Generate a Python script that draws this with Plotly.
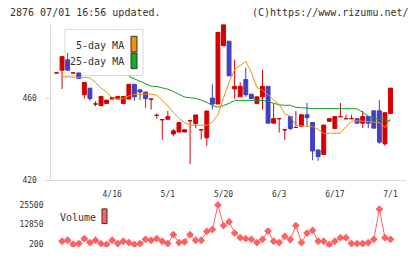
import plotly.graph_objects as go

# ---- data ----
idx = list(range(61))
opens  = [472.2,473.5,478.6,472.2,472.2,461.6,464.8,457.1,456.3,457.3,
          459.5,459.5,457.3,459.5,466.7,464.0,462.9,459.5,451.6,449.5,
          449.7,442.6,443.5,443.5,449.0,447.6,444.6,440.7,460.0,457.1,
          485.4,487.6,464.4,460.6,469.0,461.9,457.3,460.6,465.7,447.8,
          450.0,444.6,451.0,445.7,446.3,451.9,448.1,434.8,432.6,448.7,
          445.2,451.0,450.0,450.0,450.0,447.8,451.0,453.8,453.8,437.8,452.5]
highs  = [472.2,480.1,481.9,472.2,472.2,467.6,464.8,458.4,460.8,459.0,
          460.3,460.8,460.8,466.7,466.7,464.0,462.9,459.5,452.5,449.5,
          453.7,444.9,448.1,444.6,449.5,451.8,444.6,453.7,466.7,491.9,
          495.7,487.6,478.6,467.6,474.8,461.9,460.6,473.8,465.7,457.3,
          450.0,444.6,451.0,453.7,451.9,457.6,448.1,434.8,446.9,450.0,
          451.0,457.6,451.9,451.9,450.0,453.7,451.0,453.8,459.0,452.9,464.8]
lows   = [472.2,464.4,473.5,472.2,469.5,459.7,458.7,456.0,456.3,457.3,
          459.5,459.5,457.3,459.5,458.7,458.9,455.2,454.4,450.0,439.7,
          449.7,441.4,443.5,443.5,428.0,445.4,439.9,436.8,454.4,457.1,
          485.4,470.8,459.7,460.6,460.6,459.7,457.3,454.4,447.8,447.8,
          443.3,439.7,444.4,445.7,446.3,446.3,429.8,429.5,432.6,448.7,
          445.2,451.0,450.0,450.0,447.8,445.4,445.4,445.4,437.8,436.8,452.5]
closes = [472.2,480.1,473.5,472.2,469.5,467.6,459.7,457.1,460.8,459.0,
          460.3,460.8,460.8,466.7,460.6,462.9,459.7,459.5,451.6,449.5,
          451.0,444.1,448.1,444.6,449.0,451.8,444.6,453.7,457.1,491.9,
          495.7,470.8,465.7,465.7,461.6,459.7,460.6,465.7,447.8,450.0,
          450.0,444.6,445.2,445.7,451.9,450.5,434.3,431.6,446.9,450.0,
          451.0,451.0,450.0,450.0,447.8,451.0,447.8,445.4,438.6,452.9,464.8]

ma5 = [None,470.3,470.3,470.3,470.2,470.0,469.9,467.6,464.8,462.9,
       460.2,459.5,459.8,461.0,461.8,461.9,461.9,461.9,461.4,459.0,
       456.2,452.9,450.2,448.1,446.8,446.8,446.8,446.8,448.3,451.9,
       460.0,467.6,473.8,475.9,477.8,472.4,465.2,463.7,461.7,459.0,
       456.9,452.4,451.2,446.7,446.5,446.5,446.2,444.8,442.9,442.9,
       442.9,442.9,446.2,448.8,448.9,448.9,448.6,448.3,448.1,445.7,450.0]
ma25 = [None]*13 + [470.5,469.3,468.1,466.7,465.8,465.6,465.0,464.3,463.1,
       461.7,460.5,460.1,459.9,459.0,457.9,456.4,455.6,456.4,457.4,458.9,
       458.9,458.9,458.9,458.9,458.9,458.3,457.4,456.7,456.5,456.5,455.5,
       455.2,454.9,454.9,454.9,454.9,454.9,454.9,454.9,454.9,454.9,454.8,
       453.1,451.2,450.2,449.8,449.3,448.9]
volume = [None,2100,2730,0,620,3780,1250,2730,620,0,
          2730,620,2100,1250,0,620,3360,2730,3780,2100,
          620,6310,1250,1680,6310,2730,2730,8420,9690,25500,
          12220,14750,7370,4420,3780,3360,1250,3360,8630,2100,
          1250,5260,3150,12220,1250,7370,9055,2100,2100,0,
          2100,4420,4420,620,620,620,1250,3360,22760,4420,3360]

tick_idx = [10, 20, 30, 40, 50, 60]
tick_labels = ["4/16", "5/1", "5/20", "6/3", "6/17", "7/1"]
price_ticks = [420, 460]
vol_ticks = [200, 12850, 25500]
vol_tick_labels = ["200", "12850", "25500"]

RED = "#d40000"
BLUE = "#4040c0"
ORANGE = "#f0900a"
GREEN = "#10a020"
VOLC = "#ff6060"
GRID = "#d8d8d8"
TXT = "#333333"
MONO = "DejaVu Sans Mono"

W, H = 420, 259
def px(x): return x / W
def py(y): return 1 - y / H

red_i = [i for i in idx if closes[i] >= opens[i]]
blue_i = [i for i in idx if closes[i] < opens[i]]

fig = go.Figure()

def candle(ids, color):
    fig.add_trace(go.Candlestick(
        x=[idx[i] for i in ids],
        open=[opens[i] for i in ids], high=[highs[i] for i in ids],
        low=[lows[i] for i in ids], close=[closes[i] for i in ids],
        increasing=dict(line=dict(color=color, width=1), fillcolor=color),
        decreasing=dict(line=dict(color=color, width=1), fillcolor=color),
        whiskerwidth=0, showlegend=False, xaxis="x", yaxis="y"))

fig.add_trace(go.Scatter(x=idx, y=ma25, mode="lines", line=dict(color=GREEN, width=1),
                         showlegend=False, xaxis="x", yaxis="y"))
fig.add_trace(go.Scatter(x=idx, y=ma5, mode="lines", line=dict(color=ORANGE, width=1),
                         showlegend=False, xaxis="x", yaxis="y"))
candle(red_i, RED)
candle(blue_i, BLUE)

fig.add_trace(go.Scatter(x=idx, y=volume, mode="lines+markers",
                         line=dict(color=VOLC, width=1),
                         marker=dict(symbol="diamond", size=6, color=VOLC),
                         showlegend=False, xaxis="x2", yaxis="y2"))

xr = [-1.078, 62.69]
xdom = [px(50.5), px(405.5)]

fig.update_layout(
    width=W, height=H, autosize=False, margin=dict(l=0, r=0, t=0, b=0, pad=0),
    paper_bgcolor="white", plot_bgcolor="white",
    boxmode="overlay", boxgap=0.3, boxgroupgap=0,
    font=dict(family=MONO, color=TXT, size=8),
    xaxis=dict(domain=xdom, range=xr, rangeslider=dict(visible=False),
               tickmode="array", tickvals=tick_idx, ticktext=tick_labels,
               ticks="", showgrid=False, zeroline=False,
               showline=True, linecolor=GRID, linewidth=1,
               tickfont=dict(family=MONO, size=8, color=TXT),
               ticklabelstandoff=6, anchor="y"),
    xaxis3=dict(overlaying="x", anchor="y", range=xr, tickmode="linear",
                tick0=xr[0], dtick=(xr[1] - xr[0]) / 11, ticks="outside",
                ticklen=6, tickcolor=GRID, tickwidth=1,
                showticklabels=False, showgrid=False, zeroline=False, showline=False),
    yaxis=dict(domain=[py(184), py(25)], range=[420, 495.7],
               tickmode="array", tickvals=price_ticks, ticks="outside",
               ticklen=5, tickcolor=GRID, showgrid=False, zeroline=False,
               showline=True, linecolor=GRID, linewidth=1,
               tickfont=dict(family=MONO, size=8, color=TXT),
               ticklabelstandoff=6, anchor="x"),
    xaxis2=dict(domain=xdom, range=xr, visible=False, anchor="y2"),
    yaxis2=dict(domain=[py(252), py(205)], range=[-1697.5, 28030],
                tickmode="array", tickvals=vol_ticks, ticktext=vol_tick_labels,
                ticks="", showgrid=False, zeroline=False, showline=False,
                tickfont=dict(family=MONO, size=8, color=TXT),
                ticklabelstandoff=6, anchor="x2"),
)

shapes = [
    dict(type="rect", xref="paper", yref="paper", x0=px(65), x1=px(143), y0=py(77), y1=py(30),
         line=dict(color="#d8d8d8", width=1), fillcolor="white", layer="below"),
    dict(type="rect", xref="paper", yref="paper", x0=px(131), x1=px(137), y0=py(53), y1=py(37),
         line=dict(color="#333333", width=1), fillcolor=ORANGE),
    dict(type="rect", xref="paper", yref="paper", x0=px(131), x1=px(137), y0=py(70), y1=py(54),
         line=dict(color="#333333", width=1), fillcolor="#10b020"),
    dict(type="rect", xref="paper", yref="paper", x0=px(102), x1=px(107), y0=py(228), y1=py(213),
         line=dict(color="#333333", width=1), fillcolor=VOLC),
]
fig.update_layout(shapes=shapes)

ann = [
    dict(text="2876 07/01 16:56 updated.", x=px(8), y=py(12.5), xanchor="left", size=10),
    dict(text="(C)https://www.rizumu.net/", x=px(411), y=py(12.5), xanchor="right", size=10),
    dict(text="5-day MA", x=px(125.5), y=py(46), xanchor="right", size=10),
    dict(text="25-day MA", x=px(125.5), y=py(63), xanchor="right", size=10),
    dict(text="Volume", x=px(58), y=py(222), xanchor="left", size=10),
]
for a in ann:
    fig.add_annotation(text=a["text"], x=a["x"], y=a["y"], xref="paper", yref="paper",
                       xanchor=a["xanchor"], yanchor="middle", showarrow=False,
                       font=dict(family=MONO, size=a["size"], color=TXT))

fig.write_html("out.html")
